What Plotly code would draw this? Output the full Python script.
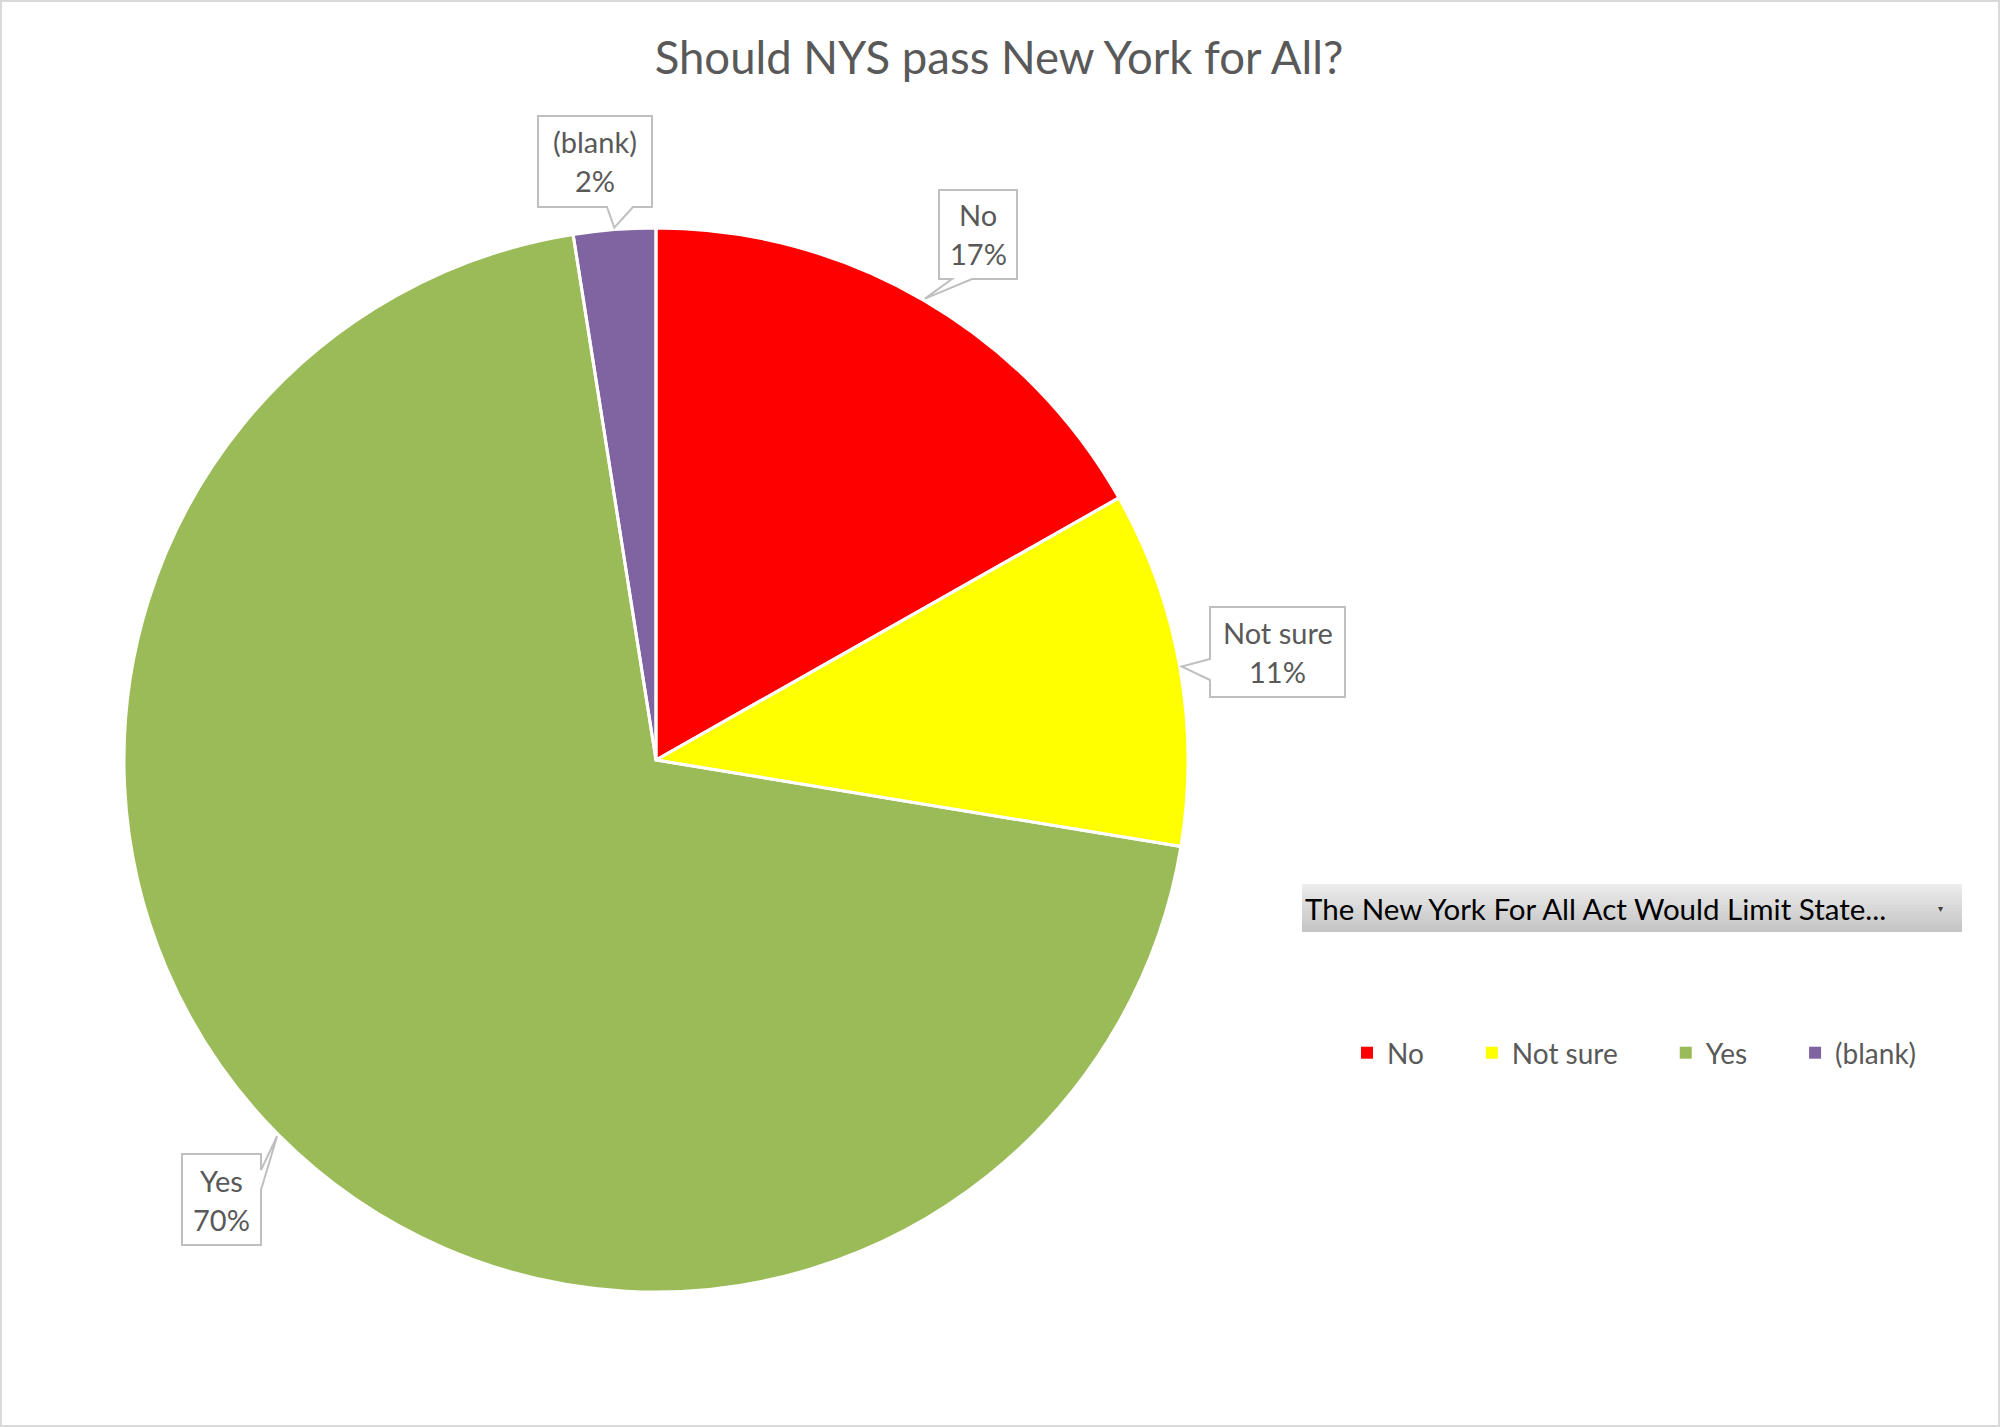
import math
import plotly.graph_objects as go

# ---------------- data ----------------
labels = ["No", "Not sure", "Yes", "(blank)"]
values = [16.8, 10.8, 69.91, 2.49]
colors = ["#FF0000", "#FFFF00", "#9BBB59", "#8064A2"]
title_text = "Should NYS pass New York for All?"
filter_text = "The New York For All Act Would Limit State..."

# ---------------- layout helpers ----------------
W, H = 2000, 1427
CX, CY, R = 656, 760, 532
FONT = "Lato"
GREY_TXT = "#595959"


def px(x):
    return x / W


def py(y):
    return 1 - y / H


# callout box geometry (pixels, y down) - styling/layout only
callouts = {
    "No": dict(box=(939, 190, 1017, 279), side="bottom", base=(952, 972)),
    "Not sure": dict(box=(1210, 607, 1345, 697), side="left", base=(659, 680)),
    "Yes": dict(box=(182, 1154, 261, 1245), side="right", base=(1170, 1190)),
    "(blank)": dict(box=(538, 116, 652, 207), side="bottom", base=(607, 633)),
}

legend_pad = "\u00a0" * 6
legend_labels = [l + legend_pad for l in labels]
pie_domain = dict(x=[px(CX - R), px(CX + R)], y=[py(CY + R), py(CY - R)])

fig = go.Figure()
# filled slices (no outline so legend swatches are full-size squares)
fig.add_trace(
    go.Pie(
        labels=legend_labels,
        values=values,
        sort=False,
        direction="clockwise",
        rotation=0,
        marker=dict(colors=colors, line=dict(color="white", width=0)),
        textinfo="none",
        hoverinfo="label+percent",
        domain=pie_domain,
    )
)
# white slice separators drawn on top
fig.add_trace(
    go.Pie(
        labels=legend_labels,
        values=values,
        sort=False,
        direction="clockwise",
        rotation=0,
        marker=dict(colors=["rgba(0,0,0,0)"] * len(values), line=dict(color="white", width=3)),
        textinfo="none",
        hoverinfo="skip",
        showlegend=False,
        domain=pie_domain,
    )
)

shapes = []
annotations = []

# outer chart border
shapes.append(dict(type="rect", xref="paper", yref="paper", x0=px(1), x1=px(W - 1),
                   y0=py(H - 1), y1=py(1), line=dict(color="#D9D9D9", width=2)))

# data label callouts computed from the slice angles
total = sum(values)
cum = 0.0
for lab, v in zip(labels, values):
    mid = (cum + v / 2) / total
    cum += v
    th = 2 * math.pi * mid
    rt = R + 2
    tx, ty = CX + rt * math.sin(th), CY - rt * math.cos(th)
    c = callouts[lab]
    x0, y0, x1, y1 = c["box"]
    b0, b1 = c["base"]
    side = c["side"]
    pts = [(x0, y0)]
    if side == "top":
        pts += [(b0, y0), (tx, ty), (b1, y0)]
    pts += [(x1, y0)]
    if side == "right":
        pts += [(x1, b0), (tx, ty), (x1, b1)]
    pts += [(x1, y1)]
    if side == "bottom":
        pts += [(b1, y1), (tx, ty), (b0, y1)]
    pts += [(x0, y1)]
    if side == "left":
        pts += [(x0, b1), (tx, ty), (x0, b0)]
    path = "M " + " L ".join(f"{px(a):.5f},{py(b):.5f}" for a, b in pts) + " Z"
    shapes.append(dict(type="path", xref="paper", yref="paper", path=path,
                       fillcolor="white", line=dict(color="#BFBFBF", width=2)))
    xc = (x0 + x1) / 2
    yc = (y0 + y1) / 2
    pct = f"{v / total:.0%}"
    annotations.append(dict(text=lab, x=px(xc), y=py(yc - 19.5), xref="paper", yref="paper",
                            showarrow=False, xanchor="center", yanchor="middle",
                            font=dict(family=FONT, size=29, color=GREY_TXT)))
    annotations.append(dict(text=pct, x=px(xc), y=py(yc + 19.5), xref="paper", yref="paper",
                            showarrow=False, xanchor="center", yanchor="middle",
                            font=dict(family=FONT, size=29, color=GREY_TXT)))

# filter (pivot field) button with vertical gradient
bx0, by0, bx1, by1 = 1302, 884, 1962, 932
n = 16
top_c, bot_c = 236, 196
for i in range(n):
    g = round(top_c + (bot_c - top_c) * i / (n - 1))
    ya = by0 + (by1 - by0) * i / n
    yb = by0 + (by1 - by0) * (i + 1) / n
    shapes.append(dict(type="rect", xref="paper", yref="paper", x0=px(bx0), x1=px(bx1),
                       y0=py(yb), y1=py(ya), fillcolor=f"rgb({g},{g},{g})",
                       line=dict(width=0), layer="above"))
annotations.append(dict(text=filter_text, x=px(1303), y=py((by0 + by1) / 2), xref="paper",
                        yref="paper", showarrow=False, xanchor="left", yanchor="middle",
                        font=dict(family=FONT, size=29.5, color="#000000")))
annotations.append(dict(text="▾", x=px(1940), y=py(908), xref="paper", yref="paper",
                        showarrow=False, xanchor="center", yanchor="middle",
                        font=dict(family="DejaVu Sans", size=10, color="#404040")))

fig.update_layout(
    width=W,
    height=H,
    margin=dict(l=0, r=0, t=0, b=0),
    paper_bgcolor="white",
    plot_bgcolor="white",
    title=dict(text=title_text, x=0.4995, xanchor="center", y=1 - 58 / H, yanchor="middle",
               yref="container", font=dict(family=FONT, size=45.5, color=GREY_TXT)),
    showlegend=True,
    legend=dict(orientation="h", x=px(1347), xanchor="left", y=py(1053), yanchor="middle",
                font=dict(family=FONT, size=28, color=GREY_TXT), bgcolor="rgba(0,0,0,0)"),
    shapes=shapes,
    annotations=annotations,
)

fig.write_html("out.html")
